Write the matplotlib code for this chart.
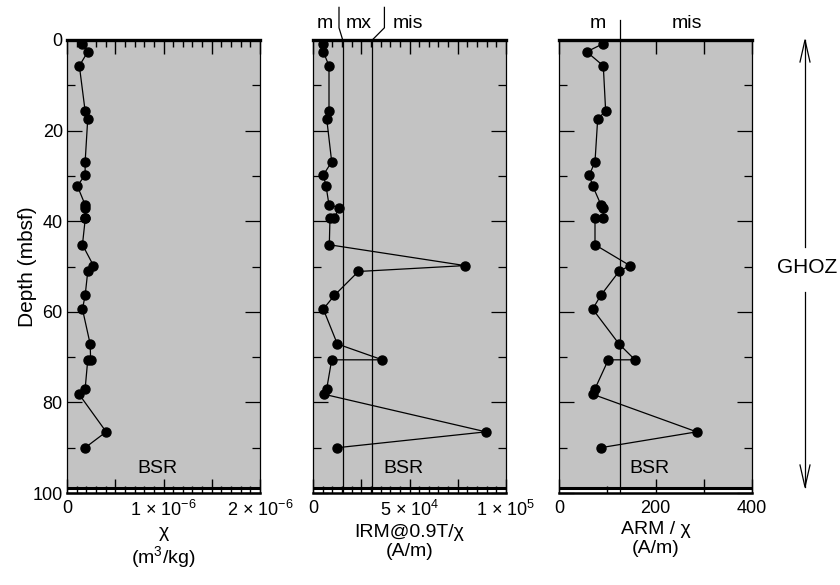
import matplotlib
matplotlib.use("Agg")
import matplotlib.pyplot as plt
from matplotlib.lines import Line2D
import matplotlib.transforms as mtransforms

plt.rcParams['font.family'] = ['Liberation Sans', 'DejaVu Sans']
plt.rcParams['mathtext.fontset'] = 'custom'
plt.rcParams['mathtext.rm'] = 'Liberation Sans'
plt.rcParams['mathtext.it'] = 'Liberation Sans:italic'

# ---- data ----
depth = [0.8, 2.6, 5.7, 15.7, 17.4, 26.9, 29.8, 32.2, 36.4, 37.0, 39.3, 39.3,
         45.2, 49.8, 51.1, 56.4, 59.4, 67.1, 70.6, 70.6, 77.0, 78.2, 86.5, 90.0]
chi = [0.153e-6, 0.215e-6, 0.128e-6, 0.188e-6, 0.215e-6, 0.188e-6, 0.188e-6, 0.107e-6,
       0.188e-6, 0.19e-6, 0.19e-6, 0.19e-6, 0.16e-6, 0.274e-6, 0.215e-6, 0.188e-6,
       0.16e-6, 0.24e-6, 0.245e-6, 0.215e-6, 0.188e-6, 0.125e-6, 0.406e-6, 0.188e-6]
irm_chi = [5340, 5340, 8290, 8290, 7100, 9690, 5340, 6740, 8290, 13600, 11000, 8800,
           8450, 78760, 23500, 11040, 5340, 12600, 35900, 9690, 7100, 5700, 89600, 12600]
arm_chi = [91.8, 57.4, 91.8, 96.7, 80.2, 74.6, 62.8, 69.8, 87.0, 91.8, 91.8, 74.6,
           74.6, 147.0, 124.4, 86.4, 69.8, 124.4, 157.5, 102.2, 74.6, 69.8, 285.4, 86.4]

bsr_depth = 98.8
irm_bounds = [15400, 30700]
arm_bound = 127

fig = plt.figure(figsize=(8.4, 5.85), dpi=100)
W, H = 840.0, 585.0
top_px, bot_px = 40.0, 493.0
lefts = [67, 313, 559]
width_px = 193.0
gray = '#c3c3c3'

axes = []
for lp in lefts:
    ax = fig.add_axes([lp / W, (H - bot_px) / H, width_px / W, (bot_px - top_px) / H])
    axes.append(ax)

xlims = [(0, 2e-6), (0, 1e5), (0, 400)]
series = [chi, irm_chi, arm_chi]
for ax, xl, vals in zip(axes, xlims, series):
    ax.set_facecolor(gray)
    ax.set_xlim(*xl)
    ax.set_ylim(100, 0)
    ax.axhspan(bsr_depth, 100, color='white', zorder=0.5)
    ax.axhline(bsr_depth, color='black', lw=2.2, zorder=3)
    ax.plot(vals, depth, '-', color='black', lw=0.9, marker='o', ms=6.5,
            mfc='black', mec='black', zorder=4)
    ax.text(0.47, 0.055, 'BSR', transform=ax.transAxes, ha='center', va='center',
            fontsize=14)
    for s in ['left', 'right']:
        ax.spines[s].set_linewidth(0.9)
    ax.spines['top'].set_linewidth(2.4)
    ax.spines['bottom'].set_linewidth(1.8)
    ax.set_yticks([0, 20, 40, 60, 80, 100])
    ax.set_yticks([10, 30, 50, 70, 90], minor=True)
    ax.tick_params(axis='y', which='major', direction='in', left=True, right=True,
                   length=10.5, width=0.9, labelsize=13, pad=3)
    ax.tick_params(axis='y', which='minor', direction='in', left=True, right=True,
                   length=5.5, width=0.9)
    ax.tick_params(axis='x', which='major', direction='in', top=True, bottom=True,
                   length=10, width=1.0, labelsize=13, pad=5)
    ax.tick_params(axis='x', which='minor', direction='in', top=True, bottom=True,
                   length=4.8, width=1.0)

# panel 1 ticks
a1 = axes[0]
a1.set_xticks([0, 0.5e-6, 1e-6, 1.5e-6, 2e-6])
a1.set_xticklabels(['0', '', r'1 × 10$^{-6}$', '', r'2 × 10$^{-6}$'])
a1.set_xticks([i * 1e-7 for i in range(21)], minor=True)
a1.set_ylabel('Depth (mbsf)', fontsize=15, labelpad=-3)
a1.set_xlabel('χ\n(m$^3$/kg)', fontsize=14, labelpad=3, linespacing=1.15)

# panel 2
a2 = axes[1]
a2.set_xticks([0, 2.5e4, 5e4, 7.5e4, 1e5])
a2.set_xticklabels(['0', '', r'5 × 10$^{4}$', '', r'1 × 10$^{5}$'])
a2.set_xticks([i * 5e3 for i in range(21)], minor=True)
a2.set_yticklabels([])
a2.set_xlabel('IRM@0.9T/χ\n(A/m)', fontsize=14, labelpad=3, linespacing=1.15)
for b in irm_bounds:
    a2.axvline(b, color='black', lw=0.9, zorder=3)
tr2 = mtransforms.blended_transform_factory(a2.transData, a2.transAxes)
a2.plot([irm_bounds[0], 13470, 13470], [1.0, 1.027, 1.072], color='black', lw=0.9,
        transform=tr2, clip_on=False)
a2.plot([irm_bounds[1], 37000, 37000], [1.0, 1.027, 1.072], color='black', lw=0.9,
        transform=tr2, clip_on=False)
for lab, xv in [('m', 6300), ('mx', 23800), ('mis', 49000)]:
    a2.text(xv, 1.037, lab, transform=tr2, ha='center', va='center', fontsize=14)

# panel 3
a3 = axes[2]
a3.set_xticks([0, 200, 300, 400])
a3.set_xticklabels(['0', '200', '', '400'])
a3.set_xticks([100], minor=True)
a3.set_yticklabels([])
a3.set_xlabel('ARM / χ\n(A/m)', fontsize=14, labelpad=3, linespacing=1.15)
a3.axvline(arm_bound, color='black', lw=0.9, zorder=3)
tr3 = mtransforms.blended_transform_factory(a3.transData, a3.transAxes)
a3.plot([arm_bound, arm_bound], [1.0, 1.045], color='black', lw=0.9,
        transform=tr3, clip_on=False)
for lab, xv in [('m', 81), ('mis', 266)]:
    a3.text(xv, 1.037, lab, transform=tr3, ha='center', va='center', fontsize=14)

# GHOZ arrows (figure pixel coords)
def fl(xs, ys):
    fig.add_artist(Line2D([x / W for x in xs], [1 - y / H for y in ys],
                          color='black', lw=0.9, transform=fig.transFigure))

ax_x = 805
fl([ax_x, ax_x], [247, 40])
fl([ax_x - 5, ax_x, ax_x + 5], [62, 40, 62])
fl([ax_x, ax_x], [292, 487])
fl([ax_x - 5, ax_x, ax_x + 5], [465, 487, 465])
fig.text(807 / W, 1 - 268 / H, 'GHOZ', ha='center', va='center', fontsize=15)

fig.savefig('out.png', dpi=100)
